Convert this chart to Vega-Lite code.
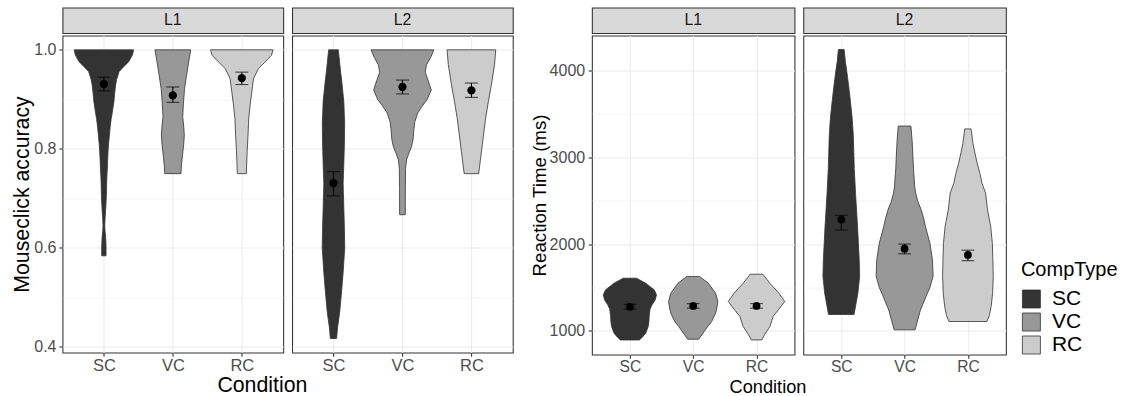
{
  "$schema": "https://vega.github.io/schema/vega-lite/v6.json",
  "background": "white",
  "padding": {"left": 10.5, "top": 6.5, "right": 0, "bottom": 0},
  "config": {
    "font": "Liberation Sans",
    "view": {"stroke": "#333333", "strokeWidth": 1.07},
    "axis": {"gridColor": "#EBEBEB", "tickColor": "#333333", "labelColor": "#4D4D4D", "domain": false, "tickSize": 3.7, "tickWidth": 1.07, "titleColor": "black", "titleFontWeight": "normal", "labelFlush": false, "labelOverlap": false},
    "legend": {"title": "CompType", "orient": "none", "legendX": 958.4, "legendY": 252, "padding": 0, "symbolType": "square", "symbolSize": 324, "symbolStrokeColor": "#333333", "symbolStrokeWidth": 0.8, "symbolOpacity": 1, "labelFontSize": 21, "labelColor": "black", "titleFontSize": 20, "titleFontWeight": "normal", "titleColor": "black", "rowPadding": 0, "labelOffset": 10, "titlePadding": 9}
  },
  "datasets": {
    "acc_violin": [
      {"panel":"L1","cond":"SC","y":1.0,"w":0.43},{"panel":"L1","cond":"SC","y":0.99,"w":0.415},{"panel":"L1","cond":"SC","y":0.976,"w":0.36},{"panel":"L1","cond":"SC","y":0.965,"w":0.28},{"panel":"L1","cond":"SC","y":0.956,"w":0.22},{"panel":"L1","cond":"SC","y":0.94,"w":0.185},{"panel":"L1","cond":"SC","y":0.929,"w":0.17},{"panel":"L1","cond":"SC","y":0.91,"w":0.155},{"panel":"L1","cond":"SC","y":0.895,"w":0.145},{"panel":"L1","cond":"SC","y":0.872,"w":0.12},{"panel":"L1","cond":"SC","y":0.861,"w":0.106},{"panel":"L1","cond":"SC","y":0.845,"w":0.092},{"panel":"L1","cond":"SC","y":0.828,"w":0.08},{"panel":"L1","cond":"SC","y":0.81,"w":0.068},{"panel":"L1","cond":"SC","y":0.794,"w":0.06},{"panel":"L1","cond":"SC","y":0.775,"w":0.054},{"panel":"L1","cond":"SC","y":0.76,"w":0.05},{"panel":"L1","cond":"SC","y":0.745,"w":0.044},{"panel":"L1","cond":"SC","y":0.727,"w":0.039},{"panel":"L1","cond":"SC","y":0.71,"w":0.037},{"panel":"L1","cond":"SC","y":0.693,"w":0.032},{"panel":"L1","cond":"SC","y":0.675,"w":0.025},{"panel":"L1","cond":"SC","y":0.659,"w":0.017},{"panel":"L1","cond":"SC","y":0.645,"w":0.013},{"panel":"L1","cond":"SC","y":0.635,"w":0.016},{"panel":"L1","cond":"SC","y":0.622,"w":0.025},{"panel":"L1","cond":"SC","y":0.61,"w":0.03},{"panel":"L1","cond":"SC","y":0.597,"w":0.032},{"panel":"L1","cond":"SC","y":0.584,"w":0.031},
      {"panel":"L1","cond":"VC","y":1.0,"w":0.26},{"panel":"L1","cond":"VC","y":0.976,"w":0.23},{"panel":"L1","cond":"VC","y":0.949,"w":0.2},{"panel":"L1","cond":"VC","y":0.922,"w":0.17},{"panel":"L1","cond":"VC","y":0.895,"w":0.155},{"panel":"L1","cond":"VC","y":0.865,"w":0.143},{"panel":"L1","cond":"VC","y":0.845,"w":0.158},{"panel":"L1","cond":"VC","y":0.828,"w":0.166},{"panel":"L1","cond":"VC","y":0.81,"w":0.158},{"panel":"L1","cond":"VC","y":0.794,"w":0.145},{"panel":"L1","cond":"VC","y":0.767,"w":0.125},{"panel":"L1","cond":"VC","y":0.75,"w":0.118},
      {"panel":"L1","cond":"RC","y":1.0,"w":0.454},{"panel":"L1","cond":"RC","y":0.989,"w":0.43},{"panel":"L1","cond":"RC","y":0.976,"w":0.34},{"panel":"L1","cond":"RC","y":0.962,"w":0.24},{"panel":"L1","cond":"RC","y":0.942,"w":0.17},{"panel":"L1","cond":"RC","y":0.915,"w":0.145},{"panel":"L1","cond":"RC","y":0.888,"w":0.12},{"panel":"L1","cond":"RC","y":0.861,"w":0.1},{"panel":"L1","cond":"RC","y":0.828,"w":0.09},{"panel":"L1","cond":"RC","y":0.794,"w":0.077},{"panel":"L1","cond":"RC","y":0.75,"w":0.065},
      {"panel":"L2","cond":"SC","y":1.0,"w":0.07},{"panel":"L2","cond":"SC","y":0.96,"w":0.1},{"panel":"L2","cond":"SC","y":0.93,"w":0.125},{"panel":"L2","cond":"SC","y":0.895,"w":0.15},{"panel":"L2","cond":"SC","y":0.85,"w":0.162},{"panel":"L2","cond":"SC","y":0.81,"w":0.158},{"panel":"L2","cond":"SC","y":0.77,"w":0.15},{"panel":"L2","cond":"SC","y":0.73,"w":0.14},{"panel":"L2","cond":"SC","y":0.69,"w":0.148},{"panel":"L2","cond":"SC","y":0.64,"w":0.158},{"panel":"L2","cond":"SC","y":0.6,"w":0.163},{"panel":"L2","cond":"SC","y":0.55,"w":0.14},{"panel":"L2","cond":"SC","y":0.5,"w":0.11},{"panel":"L2","cond":"SC","y":0.47,"w":0.09},{"panel":"L2","cond":"SC","y":0.44,"w":0.06},{"panel":"L2","cond":"SC","y":0.417,"w":0.045},
      {"panel":"L2","cond":"VC","y":1.0,"w":0.456},{"panel":"L2","cond":"VC","y":0.985,"w":0.41},{"panel":"L2","cond":"VC","y":0.97,"w":0.35},{"panel":"L2","cond":"VC","y":0.955,"w":0.33},{"panel":"L2","cond":"VC","y":0.935,"w":0.38},{"panel":"L2","cond":"VC","y":0.919,"w":0.418},{"panel":"L2","cond":"VC","y":0.9,"w":0.36},{"panel":"L2","cond":"VC","y":0.885,"w":0.28},{"panel":"L2","cond":"VC","y":0.872,"w":0.22},{"panel":"L2","cond":"VC","y":0.855,"w":0.18},{"panel":"L2","cond":"VC","y":0.839,"w":0.165},{"panel":"L2","cond":"VC","y":0.82,"w":0.155},{"panel":"L2","cond":"VC","y":0.805,"w":0.133},{"panel":"L2","cond":"VC","y":0.79,"w":0.09},{"panel":"L2","cond":"VC","y":0.778,"w":0.06},{"panel":"L2","cond":"VC","y":0.76,"w":0.045},{"panel":"L2","cond":"VC","y":0.72,"w":0.042},{"panel":"L2","cond":"VC","y":0.667,"w":0.041},
      {"panel":"L2","cond":"RC","y":1.0,"w":0.353},{"panel":"L2","cond":"RC","y":0.97,"w":0.335},{"panel":"L2","cond":"RC","y":0.93,"w":0.29},{"panel":"L2","cond":"RC","y":0.895,"w":0.245},{"panel":"L2","cond":"RC","y":0.861,"w":0.205},{"panel":"L2","cond":"RC","y":0.828,"w":0.175},{"panel":"L2","cond":"RC","y":0.794,"w":0.145},{"panel":"L2","cond":"RC","y":0.75,"w":0.105}
    ],
    "acc_summary": [
      {"panel":"L1","cond":"SC","mean":0.931,"lo":0.917,"hi":0.945},
      {"panel":"L1","cond":"VC","mean":0.908,"lo":0.894,"hi":0.925},
      {"panel":"L1","cond":"RC","mean":0.943,"lo":0.93,"hi":0.955},
      {"panel":"L2","cond":"SC","mean":0.731,"lo":0.705,"hi":0.754},
      {"panel":"L2","cond":"VC","mean":0.925,"lo":0.911,"hi":0.939},
      {"panel":"L2","cond":"RC","mean":0.918,"lo":0.904,"hi":0.933}
    ],
    "rt_violin": [
      {"panel":"L1","cond":"SC","y":1607,"w":0.105},{"panel":"L1","cond":"SC","y":1550,"w":0.25},{"panel":"L1","cond":"SC","y":1472,"w":0.386},{"panel":"L1","cond":"SC","y":1415,"w":0.42},{"panel":"L1","cond":"SC","y":1357,"w":0.4},{"panel":"L1","cond":"SC","y":1300,"w":0.35},{"panel":"L1","cond":"SC","y":1250,"w":0.318},{"panel":"L1","cond":"SC","y":1166,"w":0.305},{"panel":"L1","cond":"SC","y":1105,"w":0.3},{"panel":"L1","cond":"SC","y":1051,"w":0.29},{"panel":"L1","cond":"SC","y":974,"w":0.25},{"panel":"L1","cond":"SC","y":930,"w":0.2},{"panel":"L1","cond":"SC","y":895,"w":0.15},
      {"panel":"L1","cond":"VC","y":1627,"w":0.1},{"panel":"L1","cond":"VC","y":1550,"w":0.24},{"panel":"L1","cond":"VC","y":1434,"w":0.354},{"panel":"L1","cond":"VC","y":1335,"w":0.39},{"panel":"L1","cond":"VC","y":1250,"w":0.37},{"panel":"L1","cond":"VC","y":1204,"w":0.354},{"panel":"L1","cond":"VC","y":1105,"w":0.29},{"panel":"L1","cond":"VC","y":1051,"w":0.23},{"panel":"L1","cond":"VC","y":1000,"w":0.18},{"panel":"L1","cond":"VC","y":904,"w":0.087},
      {"panel":"L1","cond":"RC","y":1653,"w":0.1},{"panel":"L1","cond":"RC","y":1550,"w":0.21},{"panel":"L1","cond":"RC","y":1434,"w":0.354},{"panel":"L1","cond":"RC","y":1339,"w":0.446},{"panel":"L1","cond":"RC","y":1262,"w":0.367},{"panel":"L1","cond":"RC","y":1166,"w":0.262},{"panel":"L1","cond":"RC","y":1051,"w":0.212},{"panel":"L1","cond":"RC","y":960,"w":0.13},{"panel":"L1","cond":"RC","y":896,"w":0.084},
      {"panel":"L2","cond":"SC","y":4242,"w":0.045},{"panel":"L2","cond":"SC","y":4100,"w":0.065},{"panel":"L2","cond":"SC","y":4000,"w":0.085},{"panel":"L2","cond":"SC","y":3830,"w":0.115},{"panel":"L2","cond":"SC","y":3640,"w":0.145},{"panel":"L2","cond":"SC","y":3450,"w":0.172},{"panel":"L2","cond":"SC","y":3250,"w":0.19},{"panel":"L2","cond":"SC","y":2870,"w":0.205},{"panel":"L2","cond":"SC","y":2586,"w":0.225},{"panel":"L2","cond":"SC","y":2200,"w":0.257},{"panel":"L2","cond":"SC","y":1820,"w":0.283},{"panel":"L2","cond":"SC","y":1630,"w":0.29},{"panel":"L2","cond":"SC","y":1434,"w":0.262},{"panel":"L2","cond":"SC","y":1189,"w":0.202},
      {"panel":"L2","cond":"VC","y":3360,"w":0.1},{"panel":"L2","cond":"VC","y":3180,"w":0.12},{"panel":"L2","cond":"VC","y":2870,"w":0.14},{"panel":"L2","cond":"VC","y":2660,"w":0.16},{"panel":"L2","cond":"VC","y":2586,"w":0.176},{"panel":"L2","cond":"VC","y":2490,"w":0.21},{"panel":"L2","cond":"VC","y":2400,"w":0.26},{"panel":"L2","cond":"VC","y":2300,"w":0.3},{"panel":"L2","cond":"VC","y":2200,"w":0.33},{"panel":"L2","cond":"VC","y":2010,"w":0.4},{"panel":"L2","cond":"VC","y":1820,"w":0.44},{"panel":"L2","cond":"VC","y":1630,"w":0.45},{"panel":"L2","cond":"VC","y":1500,"w":0.4},{"panel":"L2","cond":"VC","y":1434,"w":0.36},{"panel":"L2","cond":"VC","y":1240,"w":0.25},{"panel":"L2","cond":"VC","y":1012,"w":0.165},
      {"panel":"L2","cond":"RC","y":3327,"w":0.05},{"panel":"L2","cond":"RC","y":3160,"w":0.08},{"panel":"L2","cond":"RC","y":3050,"w":0.11},{"panel":"L2","cond":"RC","y":2930,"w":0.147},{"panel":"L2","cond":"RC","y":2800,"w":0.195},{"panel":"L2","cond":"RC","y":2700,"w":0.223},{"panel":"L2","cond":"RC","y":2586,"w":0.28},{"panel":"L2","cond":"RC","y":2394,"w":0.31},{"panel":"L2","cond":"RC","y":2203,"w":0.36},{"panel":"L2","cond":"RC","y":2010,"w":0.386},{"panel":"L2","cond":"RC","y":1818,"w":0.394},{"panel":"L2","cond":"RC","y":1627,"w":0.4},{"panel":"L2","cond":"RC","y":1434,"w":0.39},{"panel":"L2","cond":"RC","y":1281,"w":0.367},{"panel":"L2","cond":"RC","y":1180,"w":0.34},{"panel":"L2","cond":"RC","y":1108,"w":0.3}
    ],
    "rt_summary": [
      {"panel":"L1","cond":"SC","mean":1278,"lo":1250,"hi":1306},
      {"panel":"L1","cond":"VC","mean":1288,"lo":1262,"hi":1314},
      {"panel":"L1","cond":"RC","mean":1288,"lo":1262,"hi":1314},
      {"panel":"L2","cond":"SC","mean":2282,"lo":2161,"hi":2331},
      {"panel":"L2","cond":"VC","mean":1947,"lo":1888,"hi":2000},
      {"panel":"L2","cond":"RC","mean":1875,"lo":1809,"hi":1930}
    ]
  },
  "spacing": 15.4,
  "hconcat": [
    {
      "title": {"text": "Condition", "orient": "bottom", "anchor": "middle", "fontSize": 21.3, "fontWeight": "normal", "color": "black", "offset": 1},
      "spacing": 6.6,
      "hconcat": [
        {
          "spacing": 0,
          "vconcat": [
            {"width": 220.7, "height": 25.6, "view": {"fill": "#D9D9D9", "stroke": "#333333", "strokeWidth": 1.07}, "data": {"values": [{"panel": "L1"}]}, "mark": {"type": "text", "fontSize": 15.8, "color": "#1A1A1A"}, "encoding": {"text": {"field": "panel", "type": "nominal"}}},
            {
              "width": 220.7, "height": 317,
              "layer": [
                {
                  "data": {"name": "acc_violin"},
                  "transform": [{"filter": "datum.panel == 'L1'"}, {"calculate": "indexof(['SC','VC','RC'], datum.cond) + 1", "as": "pos"}, {"calculate": "datum.pos - datum.w", "as": "left"}, {"calculate": "datum.pos + datum.w", "as": "right"}],
                  "mark": {"type": "area", "orient": "horizontal", "stroke": "#333333", "strokeWidth": 0.8, "opacity": 1},
                  "encoding": {
                    "y": {"field": "y", "type": "quantitative", "title": "Mouseclick accuracy", "scale": {"domain": [0.3887, 1.029], "nice": false, "zero": false}, "axis": {"values": [0.4,0.5,0.6,0.7,0.8,0.9,1.0], "format": ".1f", "labelExpr": "round(datum.value*10) % 2 == 0 ? datum.label : ''", "titleFontSize": 21.3, "titlePadding": 0.8, "labelFontSize": 16, "labelPadding": 2.8, "tickOpacity": {"condition": {"test": "round(datum.value*10) % 2 != 0", "value": 0}, "value": 1}, "gridWidth": {"condition": {"test": "round(datum.value*10) % 2 != 0", "value": 0.55}, "value": 1.07}}},
                    "x": {"field": "left", "type": "quantitative", "stack": null, "scale": {"domain": [0.4, 3.6], "nice": false, "zero": false}, "axis": {"values": [1,2,3], "labelExpr": "datum.value == 1 ? 'SC' : datum.value == 2 ? 'VC' : 'RC'", "title": null, "labelFontSize": 16.5, "labelPadding": 1, "gridWidth": 1.07}},
                    "x2": {"field": "right"},
                    "fill": {"field": "cond", "type": "nominal", "title": "CompType", "scale": {"domain": ["SC","VC","RC"], "range": ["#333333","#989898","#CCCCCC"]}}
                  }
                },
                {
                  "data": {"name": "acc_summary"},
                  "transform": [{"filter": "datum.panel == 'L1'"}, {"calculate": "indexof(['SC','VC','RC'], datum.cond) + 1", "as": "pos"}],
                  "mark": {"type": "errorbar", "ticks": {"size": 13, "thickness": 1.07}, "color": "black", "thickness": 1.07},
                  "encoding": {"x": {"field": "pos", "type": "quantitative", "title": null}, "y": {"field": "lo", "type": "quantitative", "title": "Mouseclick accuracy"}, "y2": {"field": "hi"}}
                },
                {
                  "data": {"name": "acc_summary"},
                  "transform": [{"filter": "datum.panel == 'L1'"}, {"calculate": "indexof(['SC','VC','RC'], datum.cond) + 1", "as": "pos"}],
                  "mark": {"type": "circle", "size": 68, "color": "black", "opacity": 1},
                  "encoding": {"x": {"field": "pos", "type": "quantitative", "title": null}, "y": {"field": "mean", "type": "quantitative", "title": "Mouseclick accuracy"}}
                }
              ]
            }
          ]
        },
        {
          "spacing": 0,
          "vconcat": [
            {"width": 220.7, "height": 25.6, "view": {"fill": "#D9D9D9", "stroke": "#333333", "strokeWidth": 1.07}, "data": {"values": [{"panel": "L2"}]}, "mark": {"type": "text", "fontSize": 15.8, "color": "#1A1A1A"}, "encoding": {"text": {"field": "panel", "type": "nominal"}}},
            {
              "width": 220.7, "height": 317,
              "layer": [
                {
                  "data": {"name": "acc_violin"},
                  "transform": [{"filter": "datum.panel == 'L2'"}, {"calculate": "indexof(['SC','VC','RC'], datum.cond) + 1", "as": "pos"}, {"calculate": "datum.pos - datum.w", "as": "left"}, {"calculate": "datum.pos + datum.w", "as": "right"}],
                  "mark": {"type": "area", "orient": "horizontal", "stroke": "#333333", "strokeWidth": 0.8, "opacity": 1},
                  "encoding": {
                    "y": {"field": "y", "type": "quantitative", "title": null, "scale": {"domain": [0.3887, 1.029], "nice": false, "zero": false}, "axis": {"values": [0.4,0.5,0.6,0.7,0.8,0.9,1.0], "labels": false, "ticks": false, "gridWidth": {"condition": {"test": "round(datum.value*10) % 2 != 0", "value": 0.55}, "value": 1.07}}},
                    "x": {"field": "left", "type": "quantitative", "stack": null, "scale": {"domain": [0.4, 3.6], "nice": false, "zero": false}, "axis": {"values": [1,2,3], "labelExpr": "datum.value == 1 ? 'SC' : datum.value == 2 ? 'VC' : 'RC'", "title": null, "labelFontSize": 16.5, "labelPadding": 1, "gridWidth": 1.07}},
                    "x2": {"field": "right"},
                    "fill": {"field": "cond", "type": "nominal", "title": "CompType", "scale": {"domain": ["SC","VC","RC"], "range": ["#333333","#989898","#CCCCCC"]}}
                  }
                },
                {
                  "data": {"name": "acc_summary"},
                  "transform": [{"filter": "datum.panel == 'L2'"}, {"calculate": "indexof(['SC','VC','RC'], datum.cond) + 1", "as": "pos"}],
                  "mark": {"type": "errorbar", "ticks": {"size": 13, "thickness": 1.07}, "color": "black", "thickness": 1.07},
                  "encoding": {"x": {"field": "pos", "type": "quantitative", "title": null}, "y": {"field": "lo", "type": "quantitative", "title": null}, "y2": {"field": "hi"}}
                },
                {
                  "data": {"name": "acc_summary"},
                  "transform": [{"filter": "datum.panel == 'L2'"}, {"calculate": "indexof(['SC','VC','RC'], datum.cond) + 1", "as": "pos"}],
                  "mark": {"type": "circle", "size": 68, "color": "black", "opacity": 1},
                  "encoding": {"x": {"field": "pos", "type": "quantitative", "title": null}, "y": {"field": "mean", "type": "quantitative", "title": null}}
                }
              ]
            }
          ]
        }
      ]
    },
    {
      "title": {"text": "Condition", "orient": "bottom", "anchor": "middle", "fontSize": 18.2, "fontWeight": "normal", "color": "black", "offset": 3.5},
      "spacing": 6.4,
      "hconcat": [
        {
          "spacing": 0,
          "vconcat": [
            {"width": 202.6, "height": 25.6, "view": {"fill": "#D9D9D9", "stroke": "#333333", "strokeWidth": 1.07}, "data": {"values": [{"panel": "L1"}]}, "mark": {"type": "text", "fontSize": 15.8, "color": "#1A1A1A"}, "encoding": {"text": {"field": "panel", "type": "nominal"}}},
            {
              "width": 202.6, "height": 319,
              "layer": [
                {
                  "data": {"name": "rt_violin"},
                  "transform": [{"filter": "datum.panel == 'L1'"}, {"calculate": "indexof(['SC','VC','RC'], datum.cond) + 1", "as": "pos"}, {"calculate": "datum.pos - datum.w", "as": "left"}, {"calculate": "datum.pos + datum.w", "as": "right"}],
                  "mark": {"type": "area", "orient": "horizontal", "stroke": "#333333", "strokeWidth": 0.8, "opacity": 1},
                  "encoding": {
                    "y": {"field": "y", "type": "quantitative", "title": "Reaction Time (ms)", "scale": {"domain": [728, 4403], "nice": false, "zero": false}, "axis": {"values": [1000,1500,2000,2500,3000,3500,4000], "format": "d", "labelExpr": "datum.value % 1000 == 0 ? datum.label : ''", "titleFontSize": 18.7, "titlePadding": 0, "labelFontSize": 16, "labelPadding": 3.5, "tickOpacity": {"condition": {"test": "datum.value % 1000 != 0", "value": 0}, "value": 1}, "gridWidth": {"condition": {"test": "datum.value % 1000 != 0", "value": 0.55}, "value": 1.07}}},
                    "x": {"field": "left", "type": "quantitative", "stack": null, "scale": {"domain": [0.4, 3.6], "nice": false, "zero": false}, "axis": {"values": [1,2,3], "labelExpr": "datum.value == 1 ? 'SC' : datum.value == 2 ? 'VC' : 'RC'", "title": null, "labelFontSize": 15.6, "labelPadding": 0.8, "gridWidth": 1.07}},
                    "x2": {"field": "right"},
                    "fill": {"field": "cond", "type": "nominal", "title": "CompType", "scale": {"domain": ["SC","VC","RC"], "range": ["#333333","#989898","#CCCCCC"]}}
                  }
                },
                {
                  "data": {"name": "rt_summary"},
                  "transform": [{"filter": "datum.panel == 'L1'"}, {"calculate": "indexof(['SC','VC','RC'], datum.cond) + 1", "as": "pos"}],
                  "mark": {"type": "errorbar", "ticks": {"size": 12.7, "thickness": 1.07}, "color": "black", "thickness": 1.07},
                  "encoding": {"x": {"field": "pos", "type": "quantitative", "title": null}, "y": {"field": "lo", "type": "quantitative", "title": "Reaction Time (ms)"}, "y2": {"field": "hi"}}
                },
                {
                  "data": {"name": "rt_summary"},
                  "transform": [{"filter": "datum.panel == 'L1'"}, {"calculate": "indexof(['SC','VC','RC'], datum.cond) + 1", "as": "pos"}],
                  "mark": {"type": "circle", "size": 60, "color": "black", "opacity": 1},
                  "encoding": {"x": {"field": "pos", "type": "quantitative", "title": null}, "y": {"field": "mean", "type": "quantitative", "title": "Reaction Time (ms)"}}
                }
              ]
            }
          ]
        },
        {
          "spacing": 0,
          "vconcat": [
            {"width": 202.6, "height": 25.6, "view": {"fill": "#D9D9D9", "stroke": "#333333", "strokeWidth": 1.07}, "data": {"values": [{"panel": "L2"}]}, "mark": {"type": "text", "fontSize": 15.8, "color": "#1A1A1A"}, "encoding": {"text": {"field": "panel", "type": "nominal"}}},
            {
              "width": 202.6, "height": 319,
              "layer": [
                {
                  "data": {"name": "rt_violin"},
                  "transform": [{"filter": "datum.panel == 'L2'"}, {"calculate": "indexof(['SC','VC','RC'], datum.cond) + 1", "as": "pos"}, {"calculate": "datum.pos - datum.w", "as": "left"}, {"calculate": "datum.pos + datum.w", "as": "right"}],
                  "mark": {"type": "area", "orient": "horizontal", "stroke": "#333333", "strokeWidth": 0.8, "opacity": 1},
                  "encoding": {
                    "y": {"field": "y", "type": "quantitative", "title": null, "scale": {"domain": [728, 4403], "nice": false, "zero": false}, "axis": {"values": [1000,1500,2000,2500,3000,3500,4000], "labels": false, "ticks": false, "gridWidth": {"condition": {"test": "datum.value % 1000 != 0", "value": 0.55}, "value": 1.07}}},
                    "x": {"field": "left", "type": "quantitative", "stack": null, "scale": {"domain": [0.4, 3.6], "nice": false, "zero": false}, "axis": {"values": [1,2,3], "labelExpr": "datum.value == 1 ? 'SC' : datum.value == 2 ? 'VC' : 'RC'", "title": null, "labelFontSize": 15.6, "labelPadding": 0.8, "gridWidth": 1.07}},
                    "x2": {"field": "right"},
                    "fill": {"field": "cond", "type": "nominal", "title": "CompType", "scale": {"domain": ["SC","VC","RC"], "range": ["#333333","#989898","#CCCCCC"]}}
                  }
                },
                {
                  "data": {"name": "rt_summary"},
                  "transform": [{"filter": "datum.panel == 'L2'"}, {"calculate": "indexof(['SC','VC','RC'], datum.cond) + 1", "as": "pos"}],
                  "mark": {"type": "errorbar", "ticks": {"size": 12.7, "thickness": 1.07}, "color": "black", "thickness": 1.07},
                  "encoding": {"x": {"field": "pos", "type": "quantitative", "title": null}, "y": {"field": "lo", "type": "quantitative", "title": null}, "y2": {"field": "hi"}}
                },
                {
                  "data": {"name": "rt_summary"},
                  "transform": [{"filter": "datum.panel == 'L2'"}, {"calculate": "indexof(['SC','VC','RC'], datum.cond) + 1", "as": "pos"}],
                  "mark": {"type": "circle", "size": 60, "color": "black", "opacity": 1},
                  "encoding": {"x": {"field": "pos", "type": "quantitative", "title": null}, "y": {"field": "mean", "type": "quantitative", "title": null}}
                }
              ]
            }
          ]
        }
      ]
    }
  ]
}
